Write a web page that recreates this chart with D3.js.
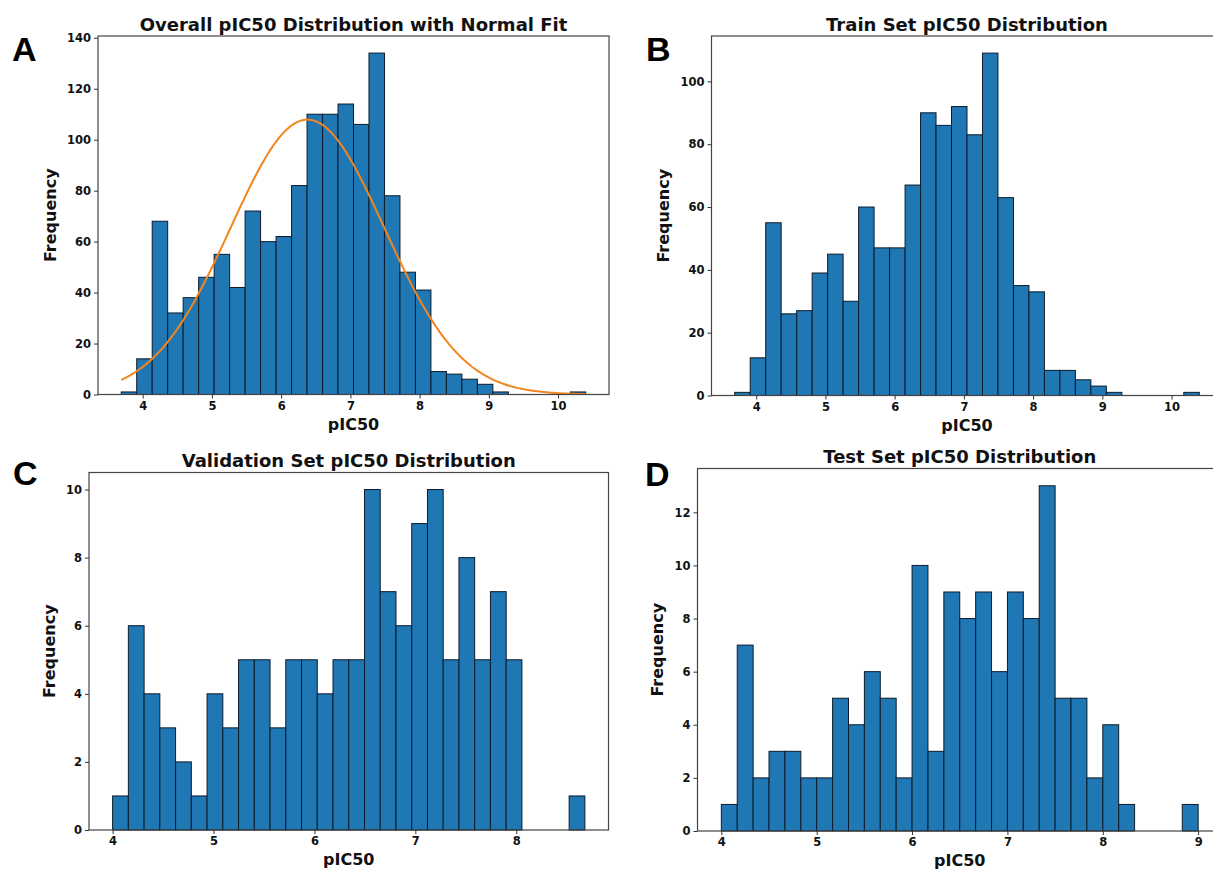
<!DOCTYPE html>
<html>
<head>
<meta charset="utf-8">
<script src="https://cdn.jsdelivr.net/npm/d3@7"></script>
<style>
  body { margin: 0; background: #fff; }
  svg { display: block; }
  text { font-family: "DejaVu Sans", sans-serif; font-weight: bold; fill: #111; }
  .letter { font-family: "Liberation Sans", Arial, sans-serif; font-weight: bold; fill: #000; }
</style>
</head>
<body>
<svg id="fig" width="1213" height="870"></svg>
<script>
// ---- Histogram counts, 30 equal-width bins per set ----
const overallCounts = [1, 14, 68, 32, 38, 46, 55, 42, 72, 60, 62, 82, 110, 110, 114, 106, 134, 78, 48, 41, 9, 8, 6, 4, 1, 0, 0, 0, 0, 1];
const trainCounts   = [1, 12, 55, 26, 27, 39, 45, 30, 60, 47, 47, 67, 90, 86, 92, 83, 109, 63, 35, 33, 8, 8, 5, 3, 1, 0, 0, 0, 0, 1];
const validCounts   = [1, 6, 4, 3, 2, 1, 4, 3, 5, 5, 3, 5, 5, 4, 5, 5, 10, 7, 6, 9, 10, 5, 8, 5, 7, 5, 0, 0, 0, 1];
const testCounts    = [1, 7, 2, 3, 3, 2, 2, 5, 4, 6, 5, 2, 10, 3, 9, 8, 9, 6, 9, 8, 13, 5, 5, 2, 4, 1, 0, 0, 0, 1];

// ---- pIC50 range covered by the bins [first edge, last edge] ----
const overallRange = [3.69, 10.40];
const trainRange   = [3.69, 10.40];
const validRange   = [4.00, 8.68];
const testRange    = [4.00, 9.00];

// ---- Tick values ----
const overallXTicks = [4, 5, 6, 7, 8, 9, 10];
const trainXTicks   = [4, 5, 6, 7, 8, 9, 10];
const validXTicks   = [4, 5, 6, 7, 8];
const testXTicks    = [4, 5, 6, 7, 8, 9];
const overallYTicks = [0, 20, 40, 60, 80, 100, 120, 140];
const trainYTicks   = [0, 20, 40, 60, 80, 100];
const validYTicks   = [0, 2, 4, 6, 8, 10];
const testYTicks    = [0, 2, 4, 6, 8, 10, 12];

// ---- Titles and panel letters ----
const titles  = ["Overall pIC50 Distribution with Normal Fit", "Train Set pIC50 Distribution",
                 "Validation Set pIC50 Distribution", "Test Set pIC50 Distribution"];
const letters = ["A", "B", "C", "D"];

// ---- Normal fit of the overall distribution ----
const fitMean = 6.38;
const fitSd = 1.11;

const BAR = "#1f77b4";
const FIT = "#f2851f";

// Axes boxes in page pixels
const panels = [
  { counts: overallCounts, range: overallRange, xt: overallXTicks, yt: overallYTicks,
    box: { l: 98, r: 609, t: 36, b: 394.5 }, letterAt: [12, 61], fit: true },
  { counts: trainCounts, range: trainRange, xt: trainXTicks, yt: trainYTicks,
    box: { l: 711.5, r: 1222.5, t: 36, b: 395.5 }, letterAt: [646, 61] },
  { counts: validCounts, range: validRange, xt: validXTicks, yt: validYTicks,
    box: { l: 89, r: 608.5, t: 472.5, b: 830 }, letterAt: [13, 485] },
  { counts: testCounts, range: testRange, xt: testXTicks, yt: testYTicks,
    box: { l: 697.5, r: 1222, t: 468.5, b: 831 }, letterAt: [645, 486] }
];

const svg = d3.select("#fig");
svg.append("rect").attr("width", 1213).attr("height", 870).attr("fill", "#fff");

panels.forEach((p, i) => {
  const { l, r, t, b } = p.box;
  const [lo, hi] = p.range;
  const n = p.counts.length;
  const w = (hi - lo) / n;
  const pad = 0.05 * (hi - lo);
  const x = d3.scaleLinear().domain([lo - pad, hi + pad]).range([l, r]);
  const y = d3.scaleLinear().domain([0, 1.05 * d3.max(p.counts)]).range([b, t]);

  const g = svg.append("g");

  const bins = p.counts.map((c, k) => ({ x0: lo + k * w, x1: lo + (k + 1) * w, c }));
  g.selectAll("rect.bar").data(bins.filter(d => d.c > 0)).join("rect")
    .attr("class", "bar")
    .attr("x", d => x(d.x0))
    .attr("width", d => x(d.x1) - x(d.x0))
    .attr("y", d => y(d.c))
    .attr("height", d => y(0) - y(d.c))
    .attr("fill", BAR)
    .attr("stroke", "#0d1b2a")
    .attr("stroke-width", 1);

  if (p.fit) {
    const total = d3.sum(p.counts);
    const xs = d3.range(0, 201).map(k => lo + (hi - lo) * k / 200);
    const pdf = v => Math.exp(-0.5 * ((v - fitMean) / fitSd) ** 2) / (fitSd * Math.sqrt(2 * Math.PI));
    g.append("path")
      .datum(xs)
      .attr("fill", "none")
      .attr("stroke", FIT)
      .attr("stroke-width", 2)
      .attr("d", d3.line().x(v => x(v)).y(v => y(total * w * pdf(v))));
  }

  // frame
  g.append("rect")
    .attr("x", l).attr("y", t).attr("width", r - l).attr("height", b - t)
    .attr("fill", "none").attr("stroke", "#444").attr("stroke-width", 1.2);

  // axes
  const ax = g.append("g").attr("transform", `translate(0,${b})`)
    .call(d3.axisBottom(x).tickValues(p.xt).tickFormat(d3.format("d")).tickSize(4).tickPadding(3));
  const ay = g.append("g").attr("transform", `translate(${l},0)`)
    .call(d3.axisLeft(y).tickValues(p.yt).tickFormat(d3.format("d")).tickSize(4).tickPadding(3));
  [ax, ay].forEach(a => {
    a.select(".domain").remove();
    a.selectAll("line").attr("stroke", "#333").attr("stroke-width", 1);
    a.selectAll("text").attr("font-size", 11.5).attr("font-family", "DejaVu Sans").attr("font-weight", "bold").attr("fill", "#111");
  });

  // axis labels
  let minLeft = l;
  ay.selectAll("text").each(function () { const bb = this.getBBox(); minLeft = Math.min(minLeft, l - 7 - bb.width); });
  g.append("text")
    .attr("transform", `translate(${minLeft - 11},${(t + b) / 2}) rotate(-90)`)
    .attr("text-anchor", "middle")
    .attr("font-size", 16)
    .text("Frequency");
  g.append("text")
    .attr("x", (l + r) / 2).attr("y", b + 35)
    .attr("text-anchor", "middle")
    .attr("font-size", 16)
    .text("pIC50");

  // title
  g.append("text")
    .attr("x", (l + r) / 2).attr("y", t - 5.5)
    .attr("text-anchor", "middle")
    .attr("font-size", 18)
    .text(titles[i]);

  // panel letter
  g.append("text")
    .attr("class", "letter")
    .attr("x", p.letterAt[0]).attr("y", p.letterAt[1])
    .attr("font-size", 34)
    .text(letters[i]);
});
</script>
</body>
</html>
